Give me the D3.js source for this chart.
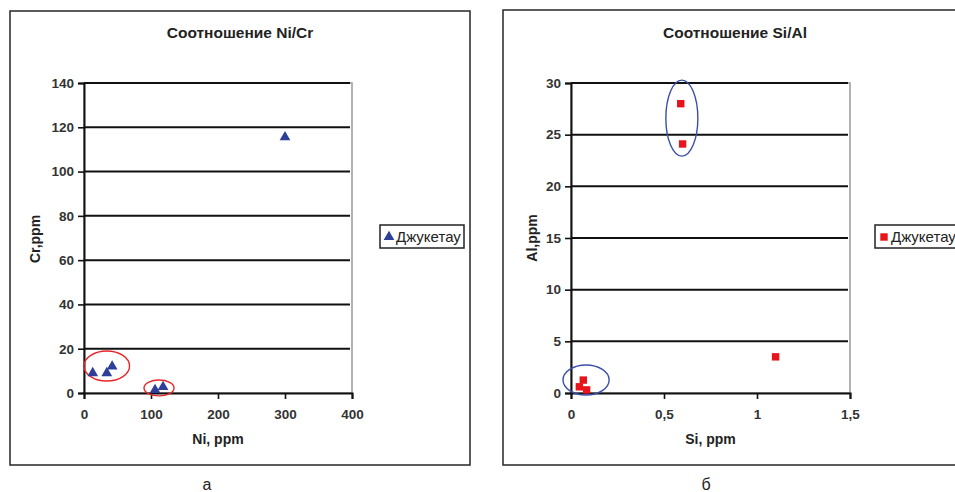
<!DOCTYPE html>
<html>
<head>
<meta charset="utf-8">
<script src="https://cdn.jsdelivr.net/npm/d3@7"></script>
<style>
  body { margin: 0; background: #fff; }
  svg { display: block; font-family: "Liberation Sans", Arial, sans-serif; }
</style>
</head>
<body>
<svg id="chart" width="955" height="492"></svg>
<script>
// panel а : Ni / Cr
const niValues = [13, 34, 42, 106, 118, 300];
const crValues = [9, 9, 12, 1.4, 2.7, 115.5];
const niTicks = [0, 100, 200, 300, 400];
const crTicks = [0, 20, 40, 60, 80, 100, 120, 140];

// panel б : Si / Al
const siValues = [0.59, 0.6, 1.1, 0.066, 0.045, 0.084];
const alValues = [28, 24.1, 3.5, 1.25, 0.6, 0.3];
const siTicks = [0, 0.5, 1, 1.5];
const alTicks = [0, 5, 10, 15, 20, 25, 30];

// hand drawn circles round the groups (data units)
const niCrGroups = [
  {x: 34, y: 12.2, rx: 34, ry: 6.8},
  {x: 112, y: 2.3, rx: 22.4, ry: 3.6}
];
const siAlGroups = [
  {x: 0.596, y: 26.6, rx: 0.086, ry: 3.68},
  {x: 0.081, y: 1.26, rx: 0.124, ry: 1.45}
];

const svg = d3.select('#chart');

function drawPanel(p) {
  const g = svg.append('g');

  // outer frame
  g.append('rect')
    .attr('x', p.frame[0]).attr('y', p.frame[1])
    .attr('width', p.frame[2]).attr('height', p.frame[3])
    .attr('fill', 'none').attr('stroke', '#333').attr('stroke-width', 1.6);

  const x = d3.scaleLinear().domain(p.xDomain).range([p.left, p.right]);
  const y = d3.scaleLinear().domain(p.yDomain).range([p.bottom, p.top]);

  // plot area border (gray)
  g.append('rect')
    .attr('x', p.left).attr('y', p.top)
    .attr('width', p.right - p.left).attr('height', p.bottom - p.top)
    .attr('fill', 'none').attr('stroke', '#999').attr('stroke-width', 1.5);

  // gridlines
  g.selectAll('.grid')
    .data(p.yTicks.filter(d => d !== p.yDomain[0]))
    .join('line')
    .attr('x1', p.left).attr('x2', p.right - 2)
    .attr('y1', d => y(d)).attr('y2', d => y(d))
    .attr('stroke', '#111').attr('stroke-width', 2);

  // axes
  const yAxis = d3.axisLeft(y).tickValues(p.yTicks).tickSize(6).tickPadding(4);
  const xAxis = d3.axisBottom(x).tickValues(p.xTicks).tickSize(6).tickPadding(10)
    .tickFormat(p.xFormat);

  const ya = g.append('g').attr('transform', `translate(${p.left},0)`).call(yAxis);
  const xa = g.append('g').attr('transform', `translate(0,${p.bottom})`).call(xAxis);
  [ya, xa].forEach(a => {
    a.select('.domain').attr('stroke', '#111').attr('stroke-width', 2);
    a.selectAll('.tick line').attr('stroke', '#111').attr('stroke-width', 1.6);
    a.selectAll('text').attr('font-size', 13.5).attr('font-weight', 'bold').attr('fill', '#333');
  });

  // group ellipses
  g.selectAll('.grp')
    .data(p.groups)
    .join('ellipse')
    .attr('cx', d => x(d.x)).attr('cy', d => y(d.y))
    .attr('rx', d => x(d.x + d.rx) - x(d.x))
    .attr('ry', d => y(d.y) - y(d.y + d.ry))
    .attr('fill', 'none').attr('stroke', p.ringColor).attr('stroke-width', 1.4);

  // points
  const pts = p.xs.map((v, i) => [v, p.ys[i]]);
  g.selectAll('.pt')
    .data(pts)
    .join('path')
    .attr('d', d3.symbol().type(p.symbol).size(p.symbolSize))
    .attr('transform', d => `translate(${x(d[0])},${y(d[1])})`)
    .attr('fill', p.color);

  // titles
  g.append('text')
    .attr('x', p.titleX).attr('y', 38)
    .attr('text-anchor', 'middle').attr('font-size', 15.5).attr('font-weight', 'bold')
    .attr('fill', '#222').text(p.title);
  g.append('text')
    .attr('x', (p.left + p.right) / 2).attr('y', 444)
    .attr('text-anchor', 'middle').attr('font-size', 14).attr('font-weight', 'bold')
    .attr('fill', '#222').text(p.xLabel);
  g.append('text')
    .attr('transform', `translate(${p.yLabelX},${p.yLabelY}) rotate(-90)`)
    .attr('text-anchor', 'middle').attr('font-size', 14).attr('font-weight', 'bold')
    .attr('fill', '#222').text(p.yLabel);

  // legend
  const lg = g.append('g').attr('transform', `translate(${p.legendX},225)`);
  lg.append('rect').attr('width', p.legendW).attr('height', 23)
    .attr('fill', '#fff').attr('stroke', '#222').attr('stroke-width', 1.5);
  lg.append('path')
    .attr('d', d3.symbol().type(p.symbol).size(p.symbolSize))
    .attr('transform', 'translate(9,12)').attr('fill', p.color);
  lg.append('text').attr('x', 16).attr('y', 17)
    .attr('font-size', 15).attr('fill', '#222').text('Джукетау');

  // caption letter
  g.append('text')
    .attr('x', p.captionX).attr('y', 490)
    .attr('text-anchor', 'middle').attr('font-size', 16).attr('fill', '#222')
    .text(p.caption);
}

drawPanel({
  frame: [10, 11, 460, 454],
  left: 84, right: 352, top: 83, bottom: 393,
  xDomain: [0, 400], yDomain: [0, 140],
  xTicks: niTicks, yTicks: crTicks, xFormat: d3.format('d'),
  xs: niValues, ys: crValues, groups: niCrGroups,
  symbol: d3.symbolTriangle, symbolSize: 50, color: '#2e3f99', ringColor: '#e8252b',
  title: 'Соотношение Ni/Cr', titleX: 240,
  xLabel: 'Ni, ppm', yLabel: 'Cr,ppm', yLabelX: 40, yLabelY: 239,
  legendX: 380, legendW: 84,
  caption: 'а', captionX: 207
});

drawPanel({
  frame: [503, 10, 460, 455],
  left: 571, right: 850, top: 83, bottom: 393,
  xDomain: [0, 1.5], yDomain: [0, 30],
  xTicks: siTicks, yTicks: alTicks, xFormat: d => String(d).replace('.', ','),
  xs: siValues, ys: alValues, groups: siAlGroups,
  symbol: d3.symbolSquare, symbolSize: 55, color: '#e8141c', ringColor: '#3a4fa8',
  title: 'Соотношение Si/Al', titleX: 735,
  xLabel: 'Si, ppm', yLabel: 'Al,ppm', yLabelX: 537, yLabelY: 238,
  legendX: 875, legendW: 90,
  caption: 'б', captionX: 706
});
</script>
</body>
</html>
